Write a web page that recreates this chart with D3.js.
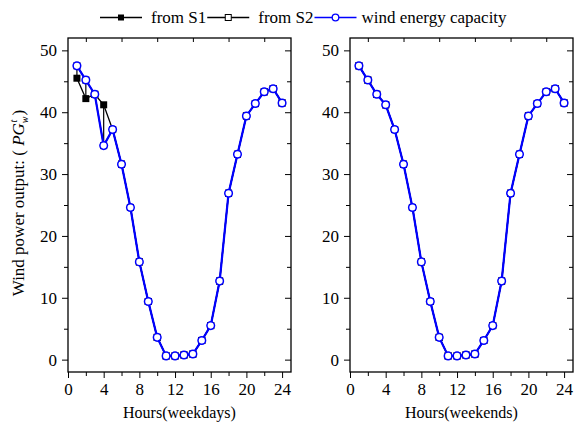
<!DOCTYPE html>
<html>
<head>
<meta charset="utf-8">
<script src="https://cdn.jsdelivr.net/npm/d3@7"></script>
<style>
  body { margin: 0; background: #fff; }
  svg text { font-family: "Liberation Serif", "Times New Roman", serif; }
</style>
</head>
<body>
<script>
var hours = [1,2,3,4,5,6,7,8,9,10,11,12,13,14,15,16,17,18,19,20,21,22,23,24];

var weekdayS1 = [45.5,42.2,42.9,41.2,37.2,31.6,24.6,15.8,9.4,3.6,0.6,0.6,0.75,0.9,3.1,5.5,12.7,26.9,33.2,39.4,41.4,43.3,43.8,41.5];
var weekdayS2 = [47.5,45.2,42.9,34.6,37.2,31.6,24.6,15.8,9.4,3.6,0.6,0.6,0.75,0.9,3.1,5.5,12.7,26.9,33.2,39.4,41.4,43.3,43.8,41.5];
var weekdayCap = [47.5,45.2,42.9,34.6,37.2,31.6,24.6,15.8,9.4,3.6,0.6,0.6,0.75,0.9,3.1,5.5,12.7,26.9,33.2,39.4,41.4,43.3,43.8,41.5];

var weekendS1 = [47.5,45.2,42.9,41.2,37.2,31.6,24.6,15.8,9.4,3.6,0.6,0.6,0.75,0.9,3.1,5.5,12.7,26.9,33.2,39.4,41.4,43.3,43.8,41.5];
var weekendS2 = [47.5,45.2,42.9,41.2,37.2,31.6,24.6,15.8,9.4,3.6,0.6,0.6,0.75,0.9,3.1,5.5,12.7,26.9,33.2,39.4,41.4,43.3,43.8,41.5];
var weekendCap = [47.5,45.2,42.9,41.2,37.2,31.6,24.6,15.8,9.4,3.6,0.6,0.6,0.75,0.9,3.1,5.5,12.7,26.9,33.2,39.4,41.4,43.3,43.8,41.5];

var xTicks = [0,4,8,12,16,20,24];
var xMinor = [2,6,10,14,18,22];
var yTicks = [0,10,20,30,40,50];
var yMinor = [5,15,25,35,45];

var seriesNames = ["from S1","from S2","wind energy capacity"];
var xTitles = ["Hours(weekdays)","Hours(weekends)"];

var blue = "#0000ff";
var serif = "Liberation Serif, Times New Roman, serif";

var svg = d3.select("body").append("svg")
    .attr("width",579)
    .attr("height",423);

var plotTop = 38, plotBottom = 372;
var panels = [
  {left:68, right:291, s1:weekdayS1, s2:weekdayS2, cap:weekdayCap, title:xTitles[0]},
  {left:350, right:573, s1:weekendS1, s2:weekendS2, cap:weekendCap, title:xTitles[1]}
];

var y = d3.scaleLinear().domain([-2,52]).range([plotBottom,plotTop]);

function pts(vals){ return hours.map(function(h,i){ return {h:h, v:vals[i]}; }); }

panels.forEach(function(p){
  var x = d3.scaleLinear().domain([0,25]).range([p.left,p.right]);
  var g = svg.append("g");

  function addAxis(axis, tr){
    var a = g.append("g").attr("transform",tr).call(axis)
      .attr("font-family",serif).attr("font-size",17);
    a.select(".domain").remove();
    a.selectAll("line").attr("stroke","#000").attr("stroke-width",1);
    a.selectAll("text").attr("fill","#000");
    return a;
  }

  addAxis(d3.axisBottom(x).tickValues(xTicks).tickSize(6).tickPadding(5), "translate(0,"+plotBottom+")");
  addAxis(d3.axisBottom(x).tickValues(xMinor).tickSize(4).tickFormat(""), "translate(0,"+plotBottom+")");
  addAxis(d3.axisBottom(x).tickValues(xMinor).tickSize(4).tickFormat(""), "translate(0,"+plotTop+")");
  addAxis(d3.axisLeft(y).tickValues(yTicks).tickSize(6).tickPadding(5), "translate("+p.left+",0)");
  addAxis(d3.axisLeft(y).tickValues(yMinor).tickSize(4).tickFormat(""), "translate("+p.left+",0)");
  addAxis(d3.axisLeft(y).tickValues(yTicks).tickSize(6).tickFormat(""), "translate("+p.right+",0)");
  addAxis(d3.axisLeft(y).tickValues(yMinor).tickSize(4).tickFormat(""), "translate("+p.right+",0)");

  g.append("rect")
    .attr("x",p.left).attr("y",plotTop)
    .attr("width",p.right-p.left).attr("height",plotBottom-plotTop)
    .attr("fill","none").attr("stroke","#000").attr("stroke-width",1.3);

  var line = d3.line().x(function(d){ return x(d.h); }).y(function(d){ return y(d.v); });

  // vertical connectors where S1 and S2 differ
  var diffs = hours.map(function(h,i){ return {h:h, a:p.s1[i], b:p.s2[i]}; })
    .filter(function(d){ return d.a !== d.b; });
  g.selectAll(".conn").data(diffs).enter().append("line")
    .attr("x1",function(d){ return x(d.h); }).attr("x2",function(d){ return x(d.h); })
    .attr("y1",function(d){ return y(d.a); }).attr("y2",function(d){ return y(d.b); })
    .attr("stroke","#000").attr("stroke-width",1.2);

  g.append("path").attr("d",line(pts(p.s1)))
    .attr("fill","none").attr("stroke","#000").attr("stroke-width",1.3);
  g.append("path").attr("d",line(pts(p.s2)))
    .attr("fill","none").attr("stroke","#000").attr("stroke-width",1.3);

  g.selectAll(".s1").data(pts(p.s1)).enter().append("rect")
    .attr("x",function(d){ return x(d.h)-3.5; }).attr("y",function(d){ return y(d.v)-3.5; })
    .attr("width",7).attr("height",7).attr("fill","#000");
  g.selectAll(".s2").data(pts(p.s2)).enter().append("rect")
    .attr("x",function(d){ return x(d.h)-3; }).attr("y",function(d){ return y(d.v)-3; })
    .attr("width",6).attr("height",6).attr("fill","#fff").attr("stroke","#000").attr("stroke-width",1);

  g.append("path").attr("d",line(pts(p.cap)))
    .attr("fill","none").attr("stroke",blue).attr("stroke-width",2.2);
  g.selectAll(".cap").data(pts(p.cap)).enter().append("circle")
    .attr("cx",function(d){ return x(d.h); }).attr("cy",function(d){ return y(d.v); })
    .attr("r",3.8).attr("fill","#fff").attr("stroke",blue).attr("stroke-width",1.5);

  g.append("text")
    .attr("x",(p.left+p.right)/2).attr("y",418)
    .attr("text-anchor","middle").attr("font-size",16)
    .text(p.title);
});

// y-axis title
var yt = svg.append("text")
  .attr("transform","translate(24,203) rotate(-90)")
  .attr("text-anchor","middle").attr("font-size",17);
yt.append("tspan").text("Wind power output: ( ");
yt.append("tspan").attr("font-style","italic").text("PG");
yt.append("tspan").attr("font-size",10).attr("font-style","italic").attr("dy",4).text("w");
yt.append("tspan").attr("font-size",10).attr("font-style","italic").attr("dx",-6).attr("dy",-11).text("t");
yt.append("tspan").attr("dy",7).text("  )");

// legend
var legend = svg.append("g");
var lx = 100, ly = 17.5;
var styles = [
  {stroke:"#000", marker:"filled"},
  {stroke:"#000", marker:"open"},
  {stroke:blue, marker:"circle"}
];
seriesNames.forEach(function(name,i){
  var st = styles[i];
  var len = 42;
  legend.append("line").attr("x1",lx).attr("x2",lx+len).attr("y1",ly).attr("y2",ly)
    .attr("stroke",st.stroke).attr("stroke-width",i===2?1.6:1.3);
  var cx = lx+len/2;
  if(st.marker==="filled"){
    legend.append("rect").attr("x",cx-3).attr("y",ly-3).attr("width",6).attr("height",6).attr("fill","#000");
  } else if(st.marker==="open"){
    legend.append("rect").attr("x",cx-3).attr("y",ly-3).attr("width",6).attr("height",6)
      .attr("fill","#fff").attr("stroke","#000").attr("stroke-width",1);
  } else {
    legend.append("circle").attr("cx",cx).attr("cy",ly).attr("r",3.3)
      .attr("fill","#fff").attr("stroke",blue).attr("stroke-width",1.3);
  }
  var t = legend.append("text").attr("x",lx+len+(i===2?5:9)).attr("y",ly+5.5)
    .attr("font-size",17).text(name);
  lx = lx+len+(i===2?5:9)+t.node().getComputedTextLength()+1;
});
</script>
</body>
</html>
